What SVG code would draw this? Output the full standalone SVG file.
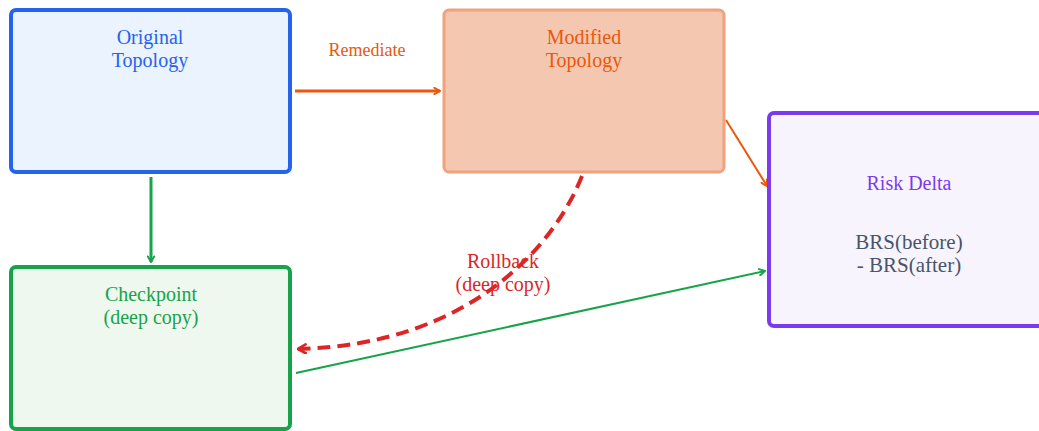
<svg xmlns="http://www.w3.org/2000/svg" width="1039" height="431" viewBox="0 0 1039 431">
  <defs>
    <marker id="arrOrange" viewBox="0 0 10 10" refX="9" refY="5" markerWidth="8" markerHeight="8" orient="auto" markerUnits="userSpaceOnUse">
      <path d="M2,1 L9,5 L2,9" fill="none" stroke="#ea580c" stroke-width="2.4" stroke-linecap="round"/>
    </marker>
    <marker id="arrGreen" viewBox="0 0 10 10" refX="9" refY="5" markerWidth="8" markerHeight="8" orient="auto" markerUnits="userSpaceOnUse">
      <path d="M2,1 L9,5 L2,9" fill="none" stroke="#16a34a" stroke-width="2.4" stroke-linecap="round"/>
    </marker>
    <marker id="arrRed" viewBox="0 0 10 10" refX="9" refY="5" markerWidth="11" markerHeight="11" orient="auto" markerUnits="userSpaceOnUse">
      <path d="M2,1 L9,5 L2,9" fill="none" stroke="#dc2626" stroke-width="2.4" stroke-linecap="round"/>
    </marker>
  </defs>
  <style>
    text { font-family: "Liberation Serif", "DejaVu Serif", serif; text-anchor: middle; }
    .title { font-size: 20px; }
    .lbl { font-size: 18px; }
    .body { font-size: 21px; fill: #475569; }
  </style>

  <rect width="1039" height="431" fill="#ffffff"/>

  <g id="connectors">
    <!-- Remediate -->
    <line x1="295" y1="91" x2="440" y2="91" stroke="#ea580c" stroke-width="3" marker-end="url(#arrOrange)"/>
    <text x="367" y="56" class="lbl" fill="#ea580c">Remediate</text>
    <!-- Modified to Risk Delta -->
    <line x1="726" y1="120" x2="767" y2="186" stroke="#ea580c" stroke-width="2" marker-end="url(#arrOrange)"/>
    <!-- Original to Checkpoint -->
    <line x1="151" y1="177" x2="151" y2="262" stroke="#16a34a" stroke-width="3" marker-end="url(#arrGreen)"/>
    <!-- Checkpoint to Risk Delta -->
    <line x1="296" y1="373" x2="765" y2="271" stroke="#16a34a" stroke-width="2" marker-end="url(#arrGreen)"/>
    <!-- Rollback -->
    <path d="M582,176 C555,245 470,345 298,349" fill="none" stroke="#dc2626" stroke-width="4" stroke-dasharray="13,7" marker-end="url(#arrRed)"/>
    <text x="503" y="268" class="title" fill="#dc2626">Rollback</text>
    <text x="503" y="291" class="title" fill="#dc2626">(deep copy)</text>
  </g>

  <g id="original">
    <rect x="11" y="10" width="279" height="162" rx="5" fill="#eaf3fe" stroke="#2563eb" stroke-width="4"/>
    <text x="150" y="44" class="title" fill="#2563eb">Original</text>
    <text x="150" y="67" class="title" fill="#2563eb">Topology</text>
  </g>

  <g id="modified">
    <rect x="444" y="10" width="280" height="162" rx="5" fill="#f4c7b0" stroke="#f0a27f" stroke-width="3"/>
    <text x="584" y="44" class="title" fill="#ea580c">Modified</text>
    <text x="584" y="67" class="title" fill="#ea580c">Topology</text>
  </g>

  <g id="risk-delta">
    <rect x="769" y="113" width="280" height="213" rx="5" fill="#f8f4fe" stroke="#7c3aed" stroke-width="4"/>
    <text x="909" y="190" class="title" fill="#7c3aed">Risk Delta</text>
    <text x="909" y="249" class="body">BRS(before)</text>
    <text x="909" y="272" class="body">- BRS(after)</text>
  </g>

  <g id="checkpoint">
    <rect x="11" y="267" width="279" height="162" rx="5" fill="#eff8ef" stroke="#16a34a" stroke-width="4"/>
    <text x="151" y="301" class="title" fill="#16a34a">Checkpoint</text>
    <text x="151" y="324" class="title" fill="#16a34a">(deep copy)</text>
  </g>
</svg>
